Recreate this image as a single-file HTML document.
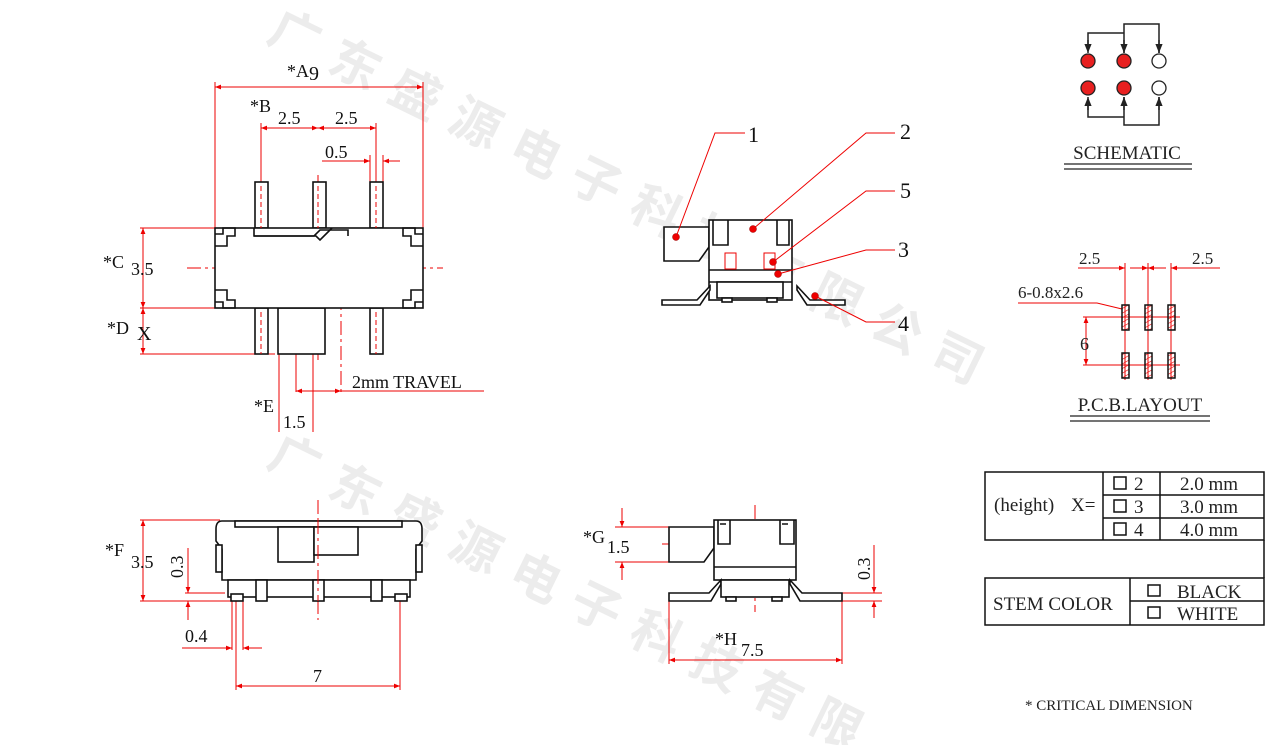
<!DOCTYPE html>
<html><head><meta charset="utf-8"><style>
html,body{margin:0;padding:0;background:#fff;width:1265px;height:745px;overflow:hidden;}
svg{display:block;font-family:"Liberation Serif",serif;}
</style></head><body>
<svg width="1265" height="745" viewBox="0 0 1265 745" xmlns="http://www.w3.org/2000/svg">
<defs>
<clipPath id="frame"><rect x="0" y="0" width="1265" height="745"/></clipPath>
<marker id="ar" viewBox="0 0 10 10" refX="10" refY="5" markerWidth="8" markerHeight="6" orient="auto-start-reverse"><path d="M0,1 L10,5 L0,9 z" fill="#e00"/></marker>
<marker id="ak" viewBox="0 0 10 10" refX="10" refY="5" markerWidth="7" markerHeight="6" orient="auto"><path d="M0,1 L10,5 L0,9 z" fill="#222"/></marker>
<pattern id="hatch" width="4" height="4" patternUnits="userSpaceOnUse" patternTransform="rotate(60)"><line x1="0" y1="0" x2="0" y2="4" stroke="#e00" stroke-width="1.2"/></pattern>
</defs>

<!-- watermark -->
<g clip-path="url(#frame)">
<g fill="#ececec" font-family="'Noto Sans CJK SC',sans-serif" font-weight="bold" font-size="50">
<text transform="translate(265,40) rotate(26)" letter-spacing="17">广东盛源电子科技有限公司</text>
<text transform="translate(265,465) rotate(26)" letter-spacing="17">广东盛源电子科技有限</text>
</g>
</g>

<!-- ============ TOP VIEW ============ -->
<g stroke="#e00" stroke-width="1" fill="none">
<line x1="215" y1="82" x2="215" y2="228"/><line x1="423" y1="82" x2="423" y2="228"/>
<line x1="215" y1="87" x2="423" y2="87" marker-start="url(#ar)" marker-end="url(#ar)"/>
<line x1="261" y1="123" x2="261" y2="230"/><line x1="376" y1="123" x2="376" y2="230"/>
<line x1="261" y1="128" x2="318" y2="128" marker-start="url(#ar)" marker-end="url(#ar)"/>
<line x1="318" y1="128" x2="376" y2="128" marker-start="url(#ar)" marker-end="url(#ar)"/>
<line x1="370" y1="155" x2="370" y2="182"/><line x1="383" y1="155" x2="383" y2="182"/>
<line x1="322" y1="161" x2="370" y2="161" marker-end="url(#ar)"/>
<line x1="400" y1="161" x2="383" y2="161" marker-end="url(#ar)"/>
<line x1="140" y1="228" x2="215" y2="228"/><line x1="140" y1="308" x2="215" y2="308"/>
<line x1="140" y1="354" x2="275" y2="354"/>
<line x1="143" y1="228" x2="143" y2="308" marker-start="url(#ar)" marker-end="url(#ar)"/>
<line x1="143" y1="308" x2="143" y2="354" marker-start="url(#ar)" marker-end="url(#ar)"/>
<line x1="187" y1="268" x2="443" y2="268" stroke-dasharray="14,4,3,4"/>
<line x1="318" y1="175" x2="318" y2="360" stroke-dasharray="14,4,3,4"/>
<line x1="296" y1="296" x2="296" y2="392"/><line x1="341" y1="296" x2="341" y2="392" stroke-dasharray="14,4,3,4"/>
<line x1="296" y1="391" x2="341" y2="391" marker-start="url(#ar)" marker-end="url(#ar)"/>
<line x1="341" y1="391" x2="484" y2="391"/>
<line x1="279" y1="354" x2="279" y2="432"/><line x1="313" y1="354" x2="313" y2="432"/>
</g>
<g stroke="#111" stroke-width="1.6" fill="#fff">
<rect x="255" y="182" width="13" height="46"/><rect x="313" y="182" width="13" height="46"/><rect x="370" y="182" width="13" height="46"/>
<rect x="255" y="308" width="13" height="46"/><rect x="370" y="308" width="13" height="46"/>
<rect x="278" y="308" width="47" height="46"/>
<rect x="215" y="228" width="208" height="80"/>
<path d="M254,228 v8 h60 l6,-6 h28 v6" fill="none"/>
<path d="M254,236 h62 l4,4 l6,-6 l6,-6" fill="none"/>
<path d="M215,234 h8 v-6 h12 v8 h-8 v10 h-12" fill="none"/>
<path d="M423,234 h-8 v-6 h-12 v8 h8 v10 h12" fill="none"/>
<path d="M215,302 h8 v6 h12 v-8 h-8 v-10 h-12" fill="none"/>
<path d="M423,302 h-8 v6 h-12 v-8 h8 v-10 h12" fill="none"/>
</g>
<g stroke="#e00" stroke-width="1" stroke-dasharray="5,3">
<line x1="261" y1="186" x2="261" y2="228"/><line x1="318" y1="186" x2="318" y2="228"/><line x1="376" y1="186" x2="376" y2="228"/>
<line x1="261" y1="312" x2="261" y2="354"/><line x1="376" y1="312" x2="376" y2="354"/>
</g>
<g fill="#111" font-size="18">
<text x="287" y="77">*A</text><text x="309" y="80" font-size="20">9</text>
<text x="250" y="112">*B</text><text x="278" y="124">2.5</text><text x="335" y="124">2.5</text>
<text x="325" y="158">0.5</text>
<text x="103" y="268">*C</text><text x="131" y="275">3.5</text>
<text x="107" y="334">*D</text><text x="137" y="340" font-size="20">X</text>
<text x="352" y="388">2mm TRAVEL</text>
<text x="254" y="412">*E</text><text x="283" y="428">1.5</text>
</g>

<!-- ============ FRONT VIEW (bottom left) ============ -->
<g stroke="#e00" stroke-width="1" fill="none">
<line x1="140" y1="520" x2="220" y2="520"/><line x1="140" y1="601" x2="232" y2="601"/>
<line x1="143" y1="520" x2="143" y2="601" marker-start="url(#ar)" marker-end="url(#ar)"/>
<line x1="185" y1="593" x2="225" y2="593"/>
<line x1="188" y1="548" x2="188" y2="593" marker-end="url(#ar)"/>
<line x1="188" y1="620" x2="188" y2="601" marker-end="url(#ar)"/>
<line x1="318" y1="500" x2="318" y2="620" stroke-dasharray="14,4,3,4"/>
<line x1="232" y1="601" x2="232" y2="650"/><line x1="236" y1="601" x2="236" y2="690"/><line x1="243" y1="601" x2="243" y2="650"/>
<line x1="182" y1="648" x2="232" y2="648" marker-end="url(#ar)"/>
<line x1="262" y1="648" x2="243" y2="648" marker-end="url(#ar)"/>
<line x1="400" y1="601" x2="400" y2="690"/>
<line x1="236" y1="686" x2="400" y2="686" marker-start="url(#ar)" marker-end="url(#ar)"/>
</g>
<g stroke="#111" stroke-width="1.6" fill="#fff">
<path d="M222,521 h194 q6,0 6,8 v12 l-6,8 v31 h-194 v-31 l-6,-8 v-12 q0,-8 6,-8z"/>
<rect x="216" y="545" width="6" height="27"/><rect x="416" y="545" width="6" height="27"/>
<rect x="235" y="521" width="167" height="6"/>
<rect x="278" y="527" width="36" height="35"/><rect x="314" y="527" width="44" height="28"/>
<rect x="228" y="580" width="182" height="17"/>
<rect x="231" y="594" width="12" height="7"/><rect x="256" y="580" width="11" height="21"/><rect x="313" y="580" width="11" height="21"/><rect x="371" y="580" width="11" height="21"/><rect x="395" y="594" width="12" height="7"/>
</g>
<line x1="318" y1="520" x2="318" y2="601" stroke="#e00" stroke-dasharray="14,4,3,4"/>
<g fill="#111" font-size="18">
<text x="105" y="556">*F</text><text x="131" y="568">3.5</text>
<text transform="translate(183,578) rotate(-90)">0.3</text>
<text x="185" y="642">0.4</text>
<text x="313" y="682">7</text>
</g>

<!-- ============ SIDE VIEW (bottom middle) ============ -->
<g stroke="#e00" stroke-width="1" fill="none">
<line x1="615" y1="527" x2="669" y2="527"/><line x1="615" y1="562" x2="669" y2="562"/>
<line x1="622" y1="508" x2="622" y2="527" marker-end="url(#ar)"/>
<line x1="622" y1="580" x2="622" y2="562" marker-end="url(#ar)"/>
<line x1="662" y1="544" x2="720" y2="544" stroke-dasharray="14,4,3,4"/>
<line x1="755" y1="505" x2="755" y2="612" stroke-dasharray="14,4,3,4"/>
<line x1="842" y1="593" x2="882" y2="593"/><line x1="842" y1="601" x2="882" y2="601"/>
<line x1="874" y1="545" x2="874" y2="593" marker-end="url(#ar)"/>
<line x1="874" y1="618" x2="874" y2="601" marker-end="url(#ar)"/>
<line x1="669" y1="601" x2="669" y2="664"/><line x1="842" y1="601" x2="842" y2="664"/>
<line x1="669" y1="660" x2="842" y2="660" marker-start="url(#ar)" marker-end="url(#ar)"/>
</g>
<g stroke="#111" stroke-width="1.6" fill="#fff">
<path d="M669,527 h45 v21 l-10,14 h-35z"/>
<rect x="714" y="520" width="82" height="60"/>
<line x1="714" y1="567" x2="796" y2="567"/>
<path d="M718,520 v24 h12 v-24 M720,524 h6 M794,520 v24 h-14 v-24 M788,524 h-6" fill="none"/>
<path d="M669,593 h40 l12,-13 v4 l-10,17 h-42z"/>
<path d="M842,593 h-40 l-12,-13 v4 l10,17 h42z"/>
<rect x="721" y="580" width="68" height="17"/>
<rect x="726" y="597" width="10" height="4"/><rect x="772" y="597" width="10" height="4"/>
</g>
<g fill="#111" font-size="18">
<text x="583" y="543">*G</text><text x="607" y="553">1.5</text>
<text transform="translate(870,580) rotate(-90)">0.3</text>
<text x="715" y="645">*H</text><text x="741" y="656">7.5</text>
</g>

<!-- ============ EXPLODED (top middle) ============ -->
<g stroke="#111" stroke-width="1.6" fill="#fff">
<path d="M664,227 h45 v20 l-10,14 h-35z"/>
<rect x="709" y="220" width="83" height="80"/>
<line x1="709" y1="270" x2="792" y2="270"/><line x1="709" y1="282" x2="792" y2="282"/>
<path d="M713,220 v25 h15 v-25 M777,220 v25 h12 v-25" fill="none"/>
<path d="M662,300 h35 l13,-14 v4 l-10,15 h-38z"/>
<path d="M845,300 h-35 l-13,-14 v4 l10,15 h38z"/>
<rect x="717" y="282" width="66" height="16"/>
<rect x="722" y="298" width="10" height="4"/><rect x="767" y="298" width="10" height="4"/>
</g>
<g stroke="#e00" stroke-width="1" fill="none">
<rect x="725" y="253" width="11" height="16"/><rect x="764" y="253" width="11" height="16"/>
<polyline points="676,237 715,133 745,133"/>
<polyline points="753,229 866,133 895,133"/>
<polyline points="773,262 866,191 895,191"/>
<polyline points="778,274 866,250 895,250"/>
<polyline points="815,296 866,322 895,322"/>
</g>
<g fill="#e00" stroke="#900" stroke-width="0.5">
<circle cx="676" cy="237" r="3.5"/><circle cx="753" cy="229" r="3.5"/><circle cx="773" cy="262" r="3.5"/><circle cx="778" cy="274" r="3.5"/><circle cx="815" cy="296" r="3.5"/>
</g>
<g fill="#111" font-size="22">
<text x="748" y="142">1</text><text x="900" y="139">2</text><text x="900" y="198">5</text><text x="898" y="257">3</text><text x="898" y="331">4</text>
</g>

<!-- ============ SCHEMATIC ============ -->
<g stroke="#222" stroke-width="1.5" fill="none">
<polyline points="1088,50 1088,33 1124,33"/>
<line x1="1088" y1="40" x2="1088" y2="53" marker-end="url(#ak)"/>
<polyline points="1124,53 1124,24 1159,24 1159,53"/>
<line x1="1124" y1="40" x2="1124" y2="53" marker-end="url(#ak)"/>
<line x1="1159" y1="40" x2="1159" y2="53" marker-end="url(#ak)"/>
<polyline points="1088,100 1088,117 1124,117"/>
<line x1="1088" y1="110" x2="1088" y2="97" marker-end="url(#ak)"/>
<polyline points="1124,97 1124,125 1159,125 1159,97"/>
<line x1="1124" y1="110" x2="1124" y2="97" marker-end="url(#ak)"/>
<line x1="1159" y1="110" x2="1159" y2="97" marker-end="url(#ak)"/>
</g>
<g stroke="#222" stroke-width="1.3">
<circle cx="1088" cy="61" r="7" fill="#e82020"/><circle cx="1124" cy="61" r="7" fill="#e82020"/><circle cx="1159" cy="61" r="7" fill="#fff"/>
<circle cx="1088" cy="88" r="7" fill="#e82020"/><circle cx="1124" cy="88" r="7" fill="#e82020"/><circle cx="1159" cy="88" r="7" fill="#fff"/>
</g>
<text x="1127" y="159" font-size="19" text-anchor="middle" fill="#222">SCHEMATIC</text>
<line x1="1064" y1="164" x2="1192" y2="164" stroke="#222" stroke-width="1.3"/>
<line x1="1064" y1="169" x2="1192" y2="169" stroke="#222" stroke-width="1.3"/>

<!-- ============ PCB LAYOUT ============ -->
<g stroke="#e00" stroke-width="1" fill="none">
<line x1="1125" y1="263" x2="1125" y2="380"/><line x1="1148" y1="263" x2="1148" y2="380"/><line x1="1171" y1="263" x2="1171" y2="380"/>
<line x1="1078" y1="268" x2="1125" y2="268" marker-end="url(#ar)"/>
<line x1="1130" y1="268" x2="1148" y2="268" marker-end="url(#ar)"/>
<line x1="1166" y1="268" x2="1148" y2="268" marker-end="url(#ar)"/>
<line x1="1220" y1="268" x2="1171" y2="268" marker-end="url(#ar)"/>
<polyline points="1018,303 1097,303 1122,309"/>
<line x1="1083" y1="317" x2="1180" y2="317"/><line x1="1083" y1="365" x2="1180" y2="365"/>
<line x1="1086" y1="317" x2="1086" y2="365" marker-start="url(#ar)" marker-end="url(#ar)"/>
</g>
<g stroke="#111" stroke-width="1.5" fill="url(#hatch)">
<rect x="1122" y="305" width="7" height="25"/><rect x="1145" y="305" width="7" height="25"/><rect x="1168" y="305" width="7" height="25"/>
<rect x="1122" y="353" width="7" height="25"/><rect x="1145" y="353" width="7" height="25"/><rect x="1168" y="353" width="7" height="25"/>
</g>
<g fill="#222" font-size="17">
<text x="1079" y="264">2.5</text><text x="1192" y="264">2.5</text>
<text x="1018" y="298">6-0.8x2.6</text>
<text x="1080" y="350" font-size="18">6</text>
</g>
<text x="1140" y="411" font-size="19" text-anchor="middle" fill="#222">P.C.B.LAYOUT</text>
<line x1="1070" y1="416" x2="1210" y2="416" stroke="#222" stroke-width="1.3"/>
<line x1="1070" y1="421" x2="1210" y2="421" stroke="#222" stroke-width="1.3"/>

<!-- ============ TABLES ============ -->
<g stroke="#111" stroke-width="1.5" fill="none">
<rect x="985" y="472" width="279" height="68"/>
<line x1="1103" y1="472" x2="1103" y2="540"/><line x1="1160" y1="472" x2="1160" y2="540"/>
<line x1="1103" y1="495" x2="1264" y2="495"/><line x1="1103" y1="518" x2="1264" y2="518"/>
<line x1="1264" y1="540" x2="1264" y2="578"/>
<rect x="985" y="578" width="279" height="47"/>
<line x1="1130" y1="578" x2="1130" y2="625"/><line x1="1130" y1="601" x2="1264" y2="601"/>
<rect x="1114" y="477" width="12" height="12"/><rect x="1114" y="500" width="12" height="12"/><rect x="1114" y="523" width="12" height="12"/>
<rect x="1148" y="585" width="12" height="11"/><rect x="1148" y="607" width="12" height="11"/>
</g>
<g fill="#222" font-size="19">
<text x="994" y="511">(height)</text><text x="1071" y="511">X=</text>
<text x="1134" y="490">2</text><text x="1134" y="513">3</text><text x="1134" y="536">4</text>
<text x="1180" y="490">2.0 mm</text><text x="1180" y="513">3.0 mm</text><text x="1180" y="536">4.0 mm</text>
<text x="993" y="610">STEM  COLOR</text>
<text x="1177" y="598">BLACK</text><text x="1177" y="620">WHITE</text>
</g>
<text x="1025" y="710" font-size="15" fill="#222">* CRITICAL  DIMENSION</text>
</svg>
</body></html>
